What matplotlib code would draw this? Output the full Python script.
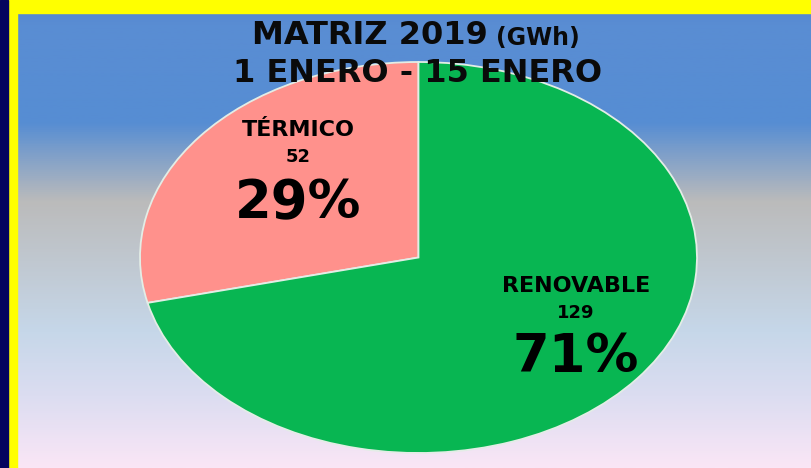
import matplotlib
matplotlib.use("Agg")
import matplotlib.pyplot as plt
import numpy as np
from matplotlib.colors import LinearSegmentedColormap
from matplotlib.patches import Rectangle

labels = ["TÉRMICO", "RENOVABLE"]
values = [52, 129]
colors = ["#FF918C", "#08B652"]

W, H = 811, 468
fig = plt.figure(figsize=(W / 100, H / 100), dpi=100)

# background gradient
bg = fig.add_axes([0, 0, 1, 1])
stops = [(0.0, "#5183CF"), (0.05, "#5A8DD3"), (0.26, "#568DD3"), (0.43, "#BBBBBB"),
         (0.71, "#C6D7E9"), (0.85, "#DCDDF1"), (1.0, "#FAE6F6")]
cmap = LinearSegmentedColormap.from_list("bg", stops)
grad = np.linspace(0, 1, 500).reshape(-1, 1)
bg.imshow(grad, cmap=cmap, aspect="auto", extent=[0, W, H, 0])
bg.set_xlim(0, W)
bg.set_ylim(H, 0)
bg.axis("off")

# borders
bg.add_patch(Rectangle((0, 0), W, 13, color="#FFFF00", zorder=3))
bg.add_patch(Rectangle((8, 0), 9, H, color="#FFFF00", zorder=3))
bg.add_patch(Rectangle((0, 0), 8, H, color="#04045E", zorder=4))

# pie (stretched to an ellipse)
left, right, top, bottom = 140, 697, 62, 453
ax = fig.add_axes([left / W, 1 - bottom / H, (right - left) / W, (bottom - top) / H])
ax.pie(values, colors=colors, startangle=90, counterclock=True,
       wedgeprops=dict(edgecolor="#E3EDE6", linewidth=1.3))
ax.set_aspect("auto")
ax.set_xlim(-1.0, 1.0)
ax.set_ylim(-1.0, 1.0)
ax.axis("off")

total = sum(values)
pos = {"TÉRMICO": (-0.433, 0.652, 0.514, 0.279),
       "RENOVABLE": (0.566, -0.146, -0.284, -0.509)}
for lab, v in zip(labels, values):
    x, y1, y2, y3 = pos[lab]
    ax.text(x, y1, lab, ha="center", va="center", fontsize=16,
            fontweight="heavy", family="DejaVu Sans", color="black")
    ax.text(x, y2, str(v), ha="center", va="center", fontsize=13,
            fontweight="bold", family="DejaVu Sans", color="black")
    ax.text(x, y3, f"{v / total * 100:.0f}%",
            ha="center", va="center", fontsize=38, fontweight="heavy",
            family="DejaVu Sans", color="black")

# title
fig.text(488 / W, 1 - 36 / H, "MATRIZ 2019", ha="right", va="center",
         fontsize=23, fontweight="bold", family="DejaVu Sans", color="#0A0A0A")
fig.text(496 / W, 1 - 38 / H, "(GWh)", ha="left", va="center",
         fontsize=17, fontweight="bold", family="DejaVu Sans", color="#0A0A0A")
fig.text(418 / W, 1 - 73 / H, "1 ENERO - 15 ENERO", ha="center", va="center",
         fontsize=23, fontweight="bold", family="DejaVu Sans", color="#0A0A0A")

fig.savefig("out.png", dpi=100)
